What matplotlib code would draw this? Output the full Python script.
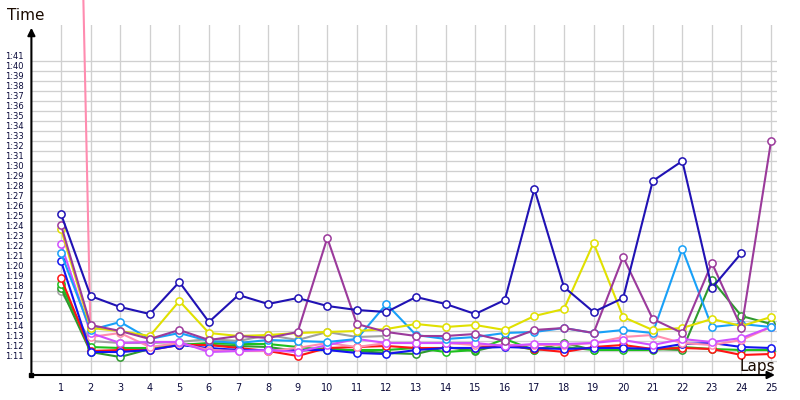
import matplotlib
matplotlib.use('Agg')
import matplotlib.pyplot as plt
from matplotlib.transforms import ScaledTranslation

# lap times in seconds (1:11 = 71)
laps = list(range(1, 26))
y_ticks = list(range(71, 102))
y_tick_labels = ['1:%02d' % (s - 60) for s in y_ticks]

gray = [78.0, 73.0, 72.8, 72.8, 72.9, 73.2, 73.0, 73.6, 73.1, 73.9, 73.4, 73.5]
dark_green = [78.3, 71.9, 71.4, 72.2, 72.7, 72.6, 72.5, 72.4, 72.0, 72.3, 72.0, 71.8, 71.7,
              72.4, 72.0, 72.7, 72.1, 72.8, 72.1, 72.2, 72.2, 72.1, 79.1, 75.5, 74.7]
green = [78.7, 72.4, 72.3, 72.3, 72.6, 72.8, 72.7, 72.7, 72.4, 72.1, 72.1, 72.1, 72.3,
         71.9, 72.1, 73.2, 72.1, 72.4, 72.1, 72.1, 72.1, 72.4, 72.2, 72.1, 72.1]
red = [79.3, 72.0, 72.1, 72.1, 72.6, 72.6, 72.3, 72.0, 71.5, 72.3, 72.4, 72.5, 72.3,
       72.3, 72.3, 72.6, 72.2, 71.9, 72.4, 72.6, 72.2, 72.3, 72.2, 71.6, 71.7]
blue = [81.0, 71.9, 71.9, 72.1, 72.6, 72.3, 72.1, 72.1, 72.1, 72.1, 71.8, 71.7, 72.1,
        72.3, 72.3, 72.4, 72.3, 72.2, 72.3, 72.3, 72.2, 72.7, 72.8, 72.4, 72.3]
pink = [212.0, 73.4, 73.8, 72.4, 72.8, 72.1, 72.0, 72.0, 72.3, 72.8, 72.4, 72.8, 72.8,
        72.8, 72.6, 72.6, 72.6, 72.6, 72.8, 73.4, 73.6, 72.8, 72.6, 73.1, 74.4]
violet = [82.7, 73.8, 72.8, 72.9, 72.9, 71.9, 72.0, 72.1, 71.9, 72.6, 73.2, 72.8, 72.8,
          72.8, 72.8, 72.5, 72.7, 72.7, 72.8, 73.1, 72.6, 73.2, 72.9, 73.3, 74.4]
light_blue = [81.8, 74.1, 74.9, 73.2, 73.8, 73.0, 72.8, 73.1, 73.0, 72.9, 73.2, 76.7, 73.6,
              73.2, 73.4, 73.8, 73.9, 74.3, 73.8, 74.1, 73.8, 82.2, 74.4, 74.7, 74.4]
yellow = [84.2, 74.3, 74.0, 73.5, 77.0, 73.8, 73.5, 73.6, 73.8, 73.9, 74.0, 74.2, 74.7,
          74.4, 74.6, 74.1, 75.5, 76.2, 82.8, 75.4, 74.1, 74.3, 75.2, 74.5, 75.4]
purple = [84.6, 74.6, 74.0, 73.2, 74.1, 73.1, 73.5, 73.3, 73.9, 83.3, 74.7, 73.9, 73.5,
          73.5, 73.7, 73.0, 74.1, 74.3, 73.8, 81.4, 75.2, 73.8, 80.8, 74.3, 93.0]
navy = [85.7, 77.5, 76.4, 75.7, 78.9, 74.9, 77.6, 76.7, 77.3, 76.5, 76.1, 75.9, 77.4,
        76.7, 75.7, 77.1, 88.2, 78.4, 75.9, 77.3, 89.0, 91.0, 78.3, 81.8]

series = [
    (gray, '#a0a0a0'),
    (dark_green, '#2e9a2e'),
    (green, '#1ec01e'),
    (red, '#ff1414'),
    (blue, '#1414f0'),
    (pink, '#ff8cb0'),
    (violet, '#d050ff'),
    (light_blue, '#18a0f8'),
    (yellow, '#e0e000'),
    (purple, '#9b3a9b'),
    (navy, '#2012b4'),
]

fig = plt.figure(figsize=(8, 4), dpi=100)
ax = fig.add_axes([31.4 / 800, 25 / 400, 745.6 / 800, 350 / 400])
ax.set_xlim(0, 25.2)
ax.set_ylim(69.6, 104.6)

for vals, c in series:
    ax.plot(laps[:len(vals)], vals, color=c, lw=1.5, marker='o', ms=5.2,
            mfc='white', mec=c, mew=1.1, clip_on=(vals is not pink))

ax.set_xticks(laps)
ax.set_yticks(y_ticks)
ax.set_yticklabels(y_tick_labels)
ax.grid(True, color='#d0d0d0', lw=0.95)
ax.set_axisbelow(True)
for s in ax.spines.values():
    s.set_visible(False)

ax.tick_params(axis='x', length=0, pad=6, labelsize=7, labelcolor='#0a0a3a')
ax.tick_params(axis='y', length=0, pad=19, labelsize=6, labelcolor='#0a0a3a')
for lab in ax.get_yticklabels():
    lab.set_horizontalalignment('left')
    lab.set_transform(lab.get_transform() + ScaledTranslation(0, 5.7 / 100, fig.dpi_scale_trans))

# axis arrows
ax.annotate('', xy=(0, 1), xytext=(0, 0), xycoords='axes fraction',
            arrowprops=dict(arrowstyle='-|>', color='black', lw=1.5, mutation_scale=11),
            annotation_clip=False)
ax.annotate('', xy=(1.001, 0), xytext=(0, 0), xycoords='axes fraction',
            arrowprops=dict(arrowstyle='-|>', color='black', lw=1.5, mutation_scale=11),
            annotation_clip=False)
ax.plot([0], [0], 's', ms=3.5, color='black', transform=ax.transAxes, clip_on=False)

fig.text(7 / 800, 1 - 16 / 400, 'Time', fontsize=11, ha='left', va='center', color='#1a0a00')
fig.text(775 / 800, 1 - 366 / 400, 'Laps', fontsize=11, ha='right', va='center', color='#1a0a00')

fig.savefig('out.png', dpi=100, facecolor='white')
